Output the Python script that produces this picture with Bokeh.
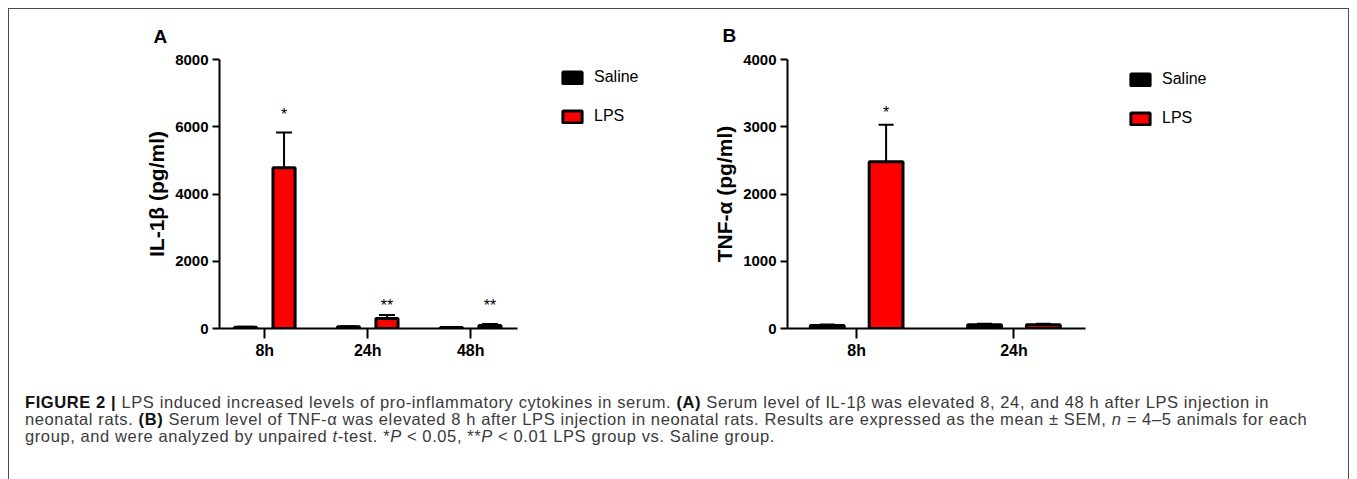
from bokeh.plotting import figure
from bokeh.models import (Range1d, FixedTicker, Legend, LegendItem, Whisker,
                          TeeHead, ColumnDataSource, Div, Spacer)
from bokeh.layouts import row, column
from bokeh.embed import file_html
from bokeh.resources import INLINE
from bokeh.core.properties import value

# ---------------- data ----------------
# Panel A : IL-1beta
cats_a = ["8h", "24h", "48h"]
saline_a = [40, 50, 30]
saline_sem_a = [12, 15, 8]
lps_a = [4780, 300, 90]
lps_sem_a = [1050, 100, 45]
stars_a = ["*", "**", "**"]
star_y_a = [6470, 810, 810]
yticks_a = [0, 2000, 4000, 6000, 8000]

# Panel B : TNF-alpha
cats_b = ["8h", "24h"]
saline_b = [45, 55]
saline_sem_b = [15, 15]
lps_b = [2480, 55]
lps_sem_b = [550, 15]
stars_b = ["*", ""]
star_y_b = [3265, 0]
yticks_b = [0, 1000, 2000, 3000, 4000]

series_names = ["Saline", "LPS"]
series_colors = ["#000000", "#ff0000"]

FONT = "Liberation Sans"
OFF = 0.187
BW = 0.215
H = 360
MB_TOP, MB_BOTTOM = 50, 41


def make_panel(cats, sal, sal_sem, lps, lps_sem, stars, star_y, yticks, ylabel, letter,
               width, mb_left, letter_off, letter_standoff, head_size):
    n = len(cats)
    xs = [i + 1 for i in range(n)]
    p = figure(width=width, height=H,
               x_range=Range1d(0.56, n + 0.455), y_range=Range1d(yticks[0], yticks[-1]),
               min_border_left=mb_left, min_border_right=10,
               min_border_top=MB_TOP, min_border_bottom=MB_BOTTOM,
               toolbar_location=None, output_backend="svg")
    p.outline_line_color = None
    p.xgrid.grid_line_color = None
    p.ygrid.grid_line_color = None

    sources = []
    for k, (vals, sems, sign) in enumerate([(sal, sal_sem, -1), (lps, lps_sem, 1)]):
        src = ColumnDataSource(dict(
            x=[x + sign * OFF for x in xs], top=vals,
            upper=[v + s for v, s in zip(vals, sems)]))
        sources.append(src)
        p.vbar(x="x", top="top", bottom=0, width=BW, source=src,
               fill_color=series_colors[k], line_color="black", line_width=3)
        w = Whisker(source=src, base="x", lower="top", upper="upper", dimension="height",
                    line_color="black", line_width=2, lower_head=None,
                    upper_head=TeeHead(size=head_size, line_width=2, line_color="black"),
                    level="overlay")
        p.add_layout(w)

    sx = [x + OFF for x, s in zip(xs, stars) if s]
    sy = [y for y, s in zip(star_y, stars) if s]
    st = [s for s in stars if s]
    p.text(x=sx, y=sy, text=st, text_align="center", text_baseline="middle",
           text_font=value(FONT), text_font_size="16px", text_color="black", y_offset=4)

    # axes
    p.xaxis.ticker = FixedTicker(ticks=xs)
    p.xaxis.major_label_overrides = {x: c for x, c in zip(xs, cats)}
    p.yaxis.ticker = FixedTicker(ticks=yticks)
    for ax in (p.xaxis[0], p.yaxis[0]):
        ax.axis_line_width = 2
        ax.axis_line_color = "black"
        ax.major_tick_line_width = 2
        ax.major_tick_line_color = "black"
        ax.major_tick_in = 0
        ax.minor_tick_line_color = None
        ax.major_label_text_font = FONT
        ax.major_label_text_font_style = "bold"
        ax.major_label_text_font_size = "15px"
        ax.major_label_text_color = "black"
    p.xaxis.major_label_text_font_size = "16px"
    p.xaxis.major_tick_out = 10
    p.xaxis.major_label_standoff = 3
    p.yaxis.major_tick_out = 7
    p.yaxis.major_label_standoff = 4
    p.yaxis.axis_label = ylabel
    p.yaxis.axis_label_text_font = FONT
    p.yaxis.axis_label_text_font_style = "bold"
    p.yaxis.axis_label_text_font_size = "21px"
    p.yaxis.axis_label_text_color = "black"
    p.yaxis.axis_label_standoff = 4

    p.title.text = letter
    p.title.align = "left"
    p.title.offset = letter_off
    p.title.standoff = letter_standoff
    p.title.text_font = FONT
    p.title.text_font_style = "bold"
    p.title.text_font_size = "19px"
    p.title.text_color = "black"
    return p, sources


def make_legend(width, vx, vy, sources, yticks):
    # a plot area that only carries the key (its glyphs are hidden, the key still shows them)
    lg = figure(width=width, height=H, x_range=Range1d(20, 21),
                y_range=Range1d(yticks[0], yticks[-1]),
                min_border_left=0, min_border_right=0,
                min_border_top=MB_TOP, min_border_bottom=MB_BOTTOM,
                x_axis_location=None, y_axis_location=None,
                toolbar_location=None, output_backend="svg")
    lg.outline_line_color = None
    lg.grid.grid_line_color = None
    items = []
    for name, col, src in zip(series_names, series_colors, sources):
        r = lg.vbar(x="x", top="top", bottom=0, width=BW, source=src,
                    fill_color=col, line_color="black", line_width=3)
        r.visible = False
        items.append(LegendItem(label=name, renderers=[r]))
    legend = Legend(items=items, location=(vx, vy), orientation="vertical",
                    label_text_font=FONT, label_text_font_size="16px",
                    label_text_color="black",
                    glyph_width=24, glyph_height=15, label_height=20, spacing=19,
                    padding=0, label_standoff=10, border_line_color=None,
                    background_fill_alpha=0, inactive_fill_alpha=0)
    lg.add_layout(legend)
    return lg


pa, src_a = make_panel(cats_a, saline_a, saline_sem_a, lps_a, lps_sem_a, stars_a, star_y_a,
                       yticks_a, "IL-1β (pg/ml)", "A", 518, 210, -66, 26, 16)
la = make_legend(163, 33, 202, src_a, yticks_a)
pb, src_b = make_panel(cats_b, saline_b, saline_sem_b, lps_b, lps_sem_b, stars_b, star_y_b,
                       yticks_b, "TNF-α (pg/ml)", "B", 405, 97, -65, 27, 15)
lb = make_legend(253, 33, 200, src_b, yticks_b)

line1 = ('<b style="color:#111">FIGURE 2 |</b> LPS induced increased levels of pro-inflammatory '
         'cytokines in serum. <b style="color:#111">(A)</b> Serum level of IL-1β was elevated 8, 24, '
         'and 48 h after LPS injection in')
line2 = ('neonatal rats. <b style="color:#111">(B)</b> Serum level of TNF-α was elevated 8 h after '
         'LPS injection in neonatal rats. Results are expressed as the mean ± SEM, '
         '<i>n</i> = 4–5 animals for each')
line3 = ('group, and were analyzed by unpaired <i>t</i>-test. *<i>P</i> &lt; 0.05, '
         '**<i>P</i> &lt; 0.01 LPS group vs. Saline group.')
caption = Div(text=('<div style="padding:25px 0 0 16px; font-family:\'Liberation Sans\', Arial, sans-serif;'
                    ' font-size:16.5px; letter-spacing:0.6px; line-height:17px; color:#3a3a3a;'
                    ' white-space:nowrap;">'
                    + line1 + '<br>' + line2 + '<br>' + line3 + '</div>'),
              width=1339, height=110, margin=0)

edge = "#4d4d4d"
top_line = Div(text="", width=1341, height=1, margin=0, styles={"background-color": edge})
left_line = Div(text="", width=1, height=470, margin=0, styles={"background-color": edge})
right_line = Div(text="", width=1, height=470, margin=0, styles={"background-color": edge})

inner = column(row(pa, la, pb, lb), caption)
box = column(top_line, row(left_line, inner, right_line))
p = column(Spacer(width=1349, height=8), row(Spacer(width=8, height=471), box))

open("out.html", "w").write(file_html(p, INLINE))
